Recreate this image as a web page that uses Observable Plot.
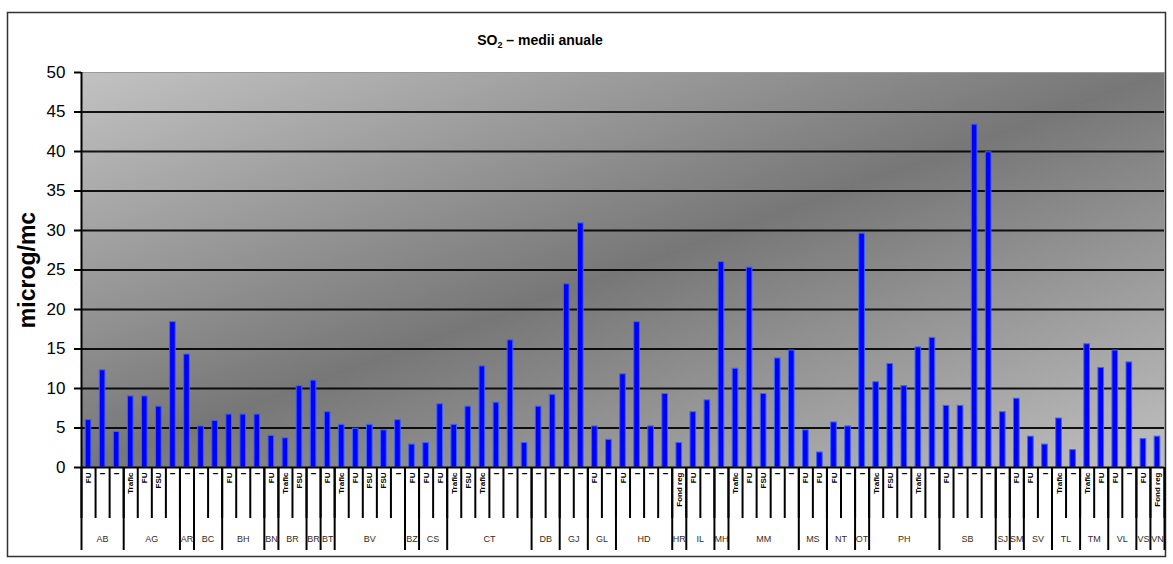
<!DOCTYPE html>
<html>
<head>
<meta charset="utf-8">
<script src="https://cdn.jsdelivr.net/npm/d3@7"></script>
<script src="https://cdn.jsdelivr.net/npm/@observablehq/plot@0.6"></script>
<style>
  body { margin: 0; background: #fff; }
  #chart svg { display: block; }
</style>
</head>
<body>
<div id="chart"></div>
<script>
// County codes, in the order they appear along the category axis
const counties = ["AB","AG","AR","BC","BH","BN","BR","BR","BT","BV","BZ","CS","CT","DB","GJ","GL","HD","HR","IL","MH","MM","MS","NT","OT","PH","SB","SJ","SM","SV","TL","TM","VL","VS","VN"];
// Number of monitoring stations in each county
const stationsPerCounty = [3,4,1,2,3,1,2,1,1,5,1,2,6,2,2,2,4,1,2,1,5,2,2,1,5,4,1,1,2,2,2,2,1,1];
// Station type of every bar
const stationTypes = [
  "FU","I","I","Trafic","FU","FSU","I","I","I","I",
  "FU","I","I","FU","Trafic","FSU","I","FU","Trafic","FU",
  "FSU","FSU","I","FU","FU","FU","Trafic","FSU","Trafic","I",
  "I","I","I","I","I","I","FU","I","FU","I",
  "I","I","Fond reg","FU","I","I","Trafic","FU","FSU","I",
  "I","FU","FU","FU","I","I","Trafic","FSU","I","Trafic",
  "I","FU","I","I","I","I","FU","FU","I","Trafic",
  "I","Trafic","FU","FU","I","FU","Fond reg"
];
// Annual mean SO2 concentration, microg/mc
const so2Annual = [
  6.0,12.3,4.5,9.0,9.0,7.7,18.4,14.3,5.2,5.9,
  6.7,6.7,6.7,4.0,3.7,10.3,11.0,7.0,5.4,4.9,
  5.4,4.7,6.0,2.9,3.1,8.0,5.4,7.7,12.8,8.2,
  16.1,3.1,7.7,9.2,23.2,30.9,5.2,3.5,11.8,18.4,
  5.2,9.3,3.1,7.0,8.5,26.0,12.5,25.3,9.3,13.8,
  14.8,4.7,1.9,5.7,5.2,29.6,10.8,13.1,10.3,15.2,
  16.4,7.8,7.8,43.4,39.9,7.0,8.7,3.9,2.9,6.2,
  2.2,15.6,12.6,14.8,13.3,3.6,3.9
];
const yTicks = [0,5,10,15,20,25,30,35,40,45,50];

// Layout
const W = 1173, H = 564;
const mL = 81, mR = 9, mT = 72, mB = 97;
const yMax = 50;
const unitsPerPx = yMax / (H - mT - mB);

// One row per bar, grouped by county
const rows = [];
const groups = [];
let k = 0;
counties.forEach((c, gi) => {
  const start = k;
  for (let j = 0; j < stationsPerCounty[gi]; j++) {
    rows.push({i: k, county: c, type: stationTypes[k], value: so2Annual[k]});
    k++;
  }
  groups.push({county: c, start, end: k});
});
const bandEdges = d3.range(0, rows.length + 1);
const groupEdges = [0, ...groups.map(g => g.end)];

// Gradient fill for the plotting area and the outer chart border
function chartDecor(index, scales, values, dims) {
  const g = d3.create("svg:g");
  const defs = g.append("defs");
  const lg = defs.append("linearGradient")
    .attr("id", "plotBg")
    .attr("x1", 0).attr("y1", 0).attr("x2", 1).attr("y2", 1);
  lg.append("stop").attr("offset", "0%").attr("stop-color", "#c2c2c2");
  lg.append("stop").attr("offset", "50%").attr("stop-color", "#777777");
  lg.append("stop").attr("offset", "100%").attr("stop-color", "#c0c0c0");
  g.append("rect")
    .attr("x", 7.5).attr("y", 12.5)
    .attr("width", dims.width - 15).attr("height", dims.height - 20)
    .attr("fill", "none").attr("stroke", "#333").attr("stroke-width", 1.5);
  return g.node();
}

// Title with the subscript in SO2
function chartTitle(index, scales, values, dims) {
  const t = d3.create("svg:text")
    .attr("x", 540).attr("y", 45)
    .attr("text-anchor", "middle")
    .attr("font-size", 14)
    .attr("font-weight", "bold")
    .attr("fill", "#000");
  t.append("tspan").text("SO");
  t.append("tspan").attr("font-size", 9).attr("dy", 3).text("2");
  t.append("tspan").attr("dy", -3).text(" \u2013 medii anuale");
  return t.node();
}

const chart = Plot.plot({
  width: W,
  height: H,
  marginLeft: mL,
  marginRight: mR,
  marginTop: mT,
  marginBottom: mB,
  style: {fontFamily: "'Liberation Sans', Arial, sans-serif", background: "#fff", color: "#000"},
  x: {domain: [0, rows.length], axis: null},
  y: {domain: [0, yMax], axis: null},
  marks: [
    chartDecor,
    Plot.frame({fill: "url(#plotBg)", stroke: "#9a9a9a", strokeWidth: 1}),
    Plot.ruleY(yTicks.filter(v => v > 0 && v < yMax), {stroke: "#000", strokeWidth: 2, strokeOpacity: 0.9}),
    Plot.rectY(rows, {
      x1: d => d.i + 0.30,
      x2: d => d.i + 0.70,
      y: "value",
      fill: "#0000ff",
      stroke: "#3a64ff",
      strokeWidth: 1
    }),
    // value axis line and bottom axis line
    Plot.ruleX([0], {y1: 0, y2: yMax, stroke: "#000", strokeWidth: 2}),
    Plot.ruleY([0], {x1: 0, x2: rows.length, stroke: "#000", strokeWidth: 2}),
    // category dividers: short between stations, long between counties
    Plot.ruleX(bandEdges, {x: d => d, y1: 0, y2: -51 * unitsPerPx, stroke: "#000", strokeWidth: 2}),
    Plot.ruleX(groupEdges, {x: d => d, y1: 0, y2: -83 * unitsPerPx, stroke: "#000", strokeWidth: 2}),
    // station type labels
    Plot.text(rows, {
      x: d => d.i + 0.5, y: 0, text: "type",
      rotate: -90, textAnchor: "end", dy: 5,
      fontSize: 8, fontWeight: "bold", fill: "#000",
      ariaLabel: "station-type"
    }),
    // county labels
    Plot.text(groups, {
      x: d => (d.start + d.end) / 2, y: 0, text: "county",
      dy: 72, fontSize: 9, fill: "#3a2a1a"
    }),
    Plot.axisY(yTicks, {
      tickSize: 7, tickPadding: 9, fontSize: 17,
      strokeWidth: 2, label: null
    }),
    Plot.text(["microg/mc"], {
      frameAnchor: "left", dx: -54, rotate: -90, textAnchor: "middle",
      fontSize: 23, fontWeight: "bold", fill: "#000"
    }),
    chartTitle
  ]
});

// the rotated station-type labels are drawn slightly elongated along their reading direction
d3.select(chart).selectAll('g[aria-label="station-type"] text')
  .attr("transform", function() { return this.getAttribute("transform") + " scale(1.35,1)"; });

document.getElementById("chart").appendChild(chart);
</script>
</body>
</html>
